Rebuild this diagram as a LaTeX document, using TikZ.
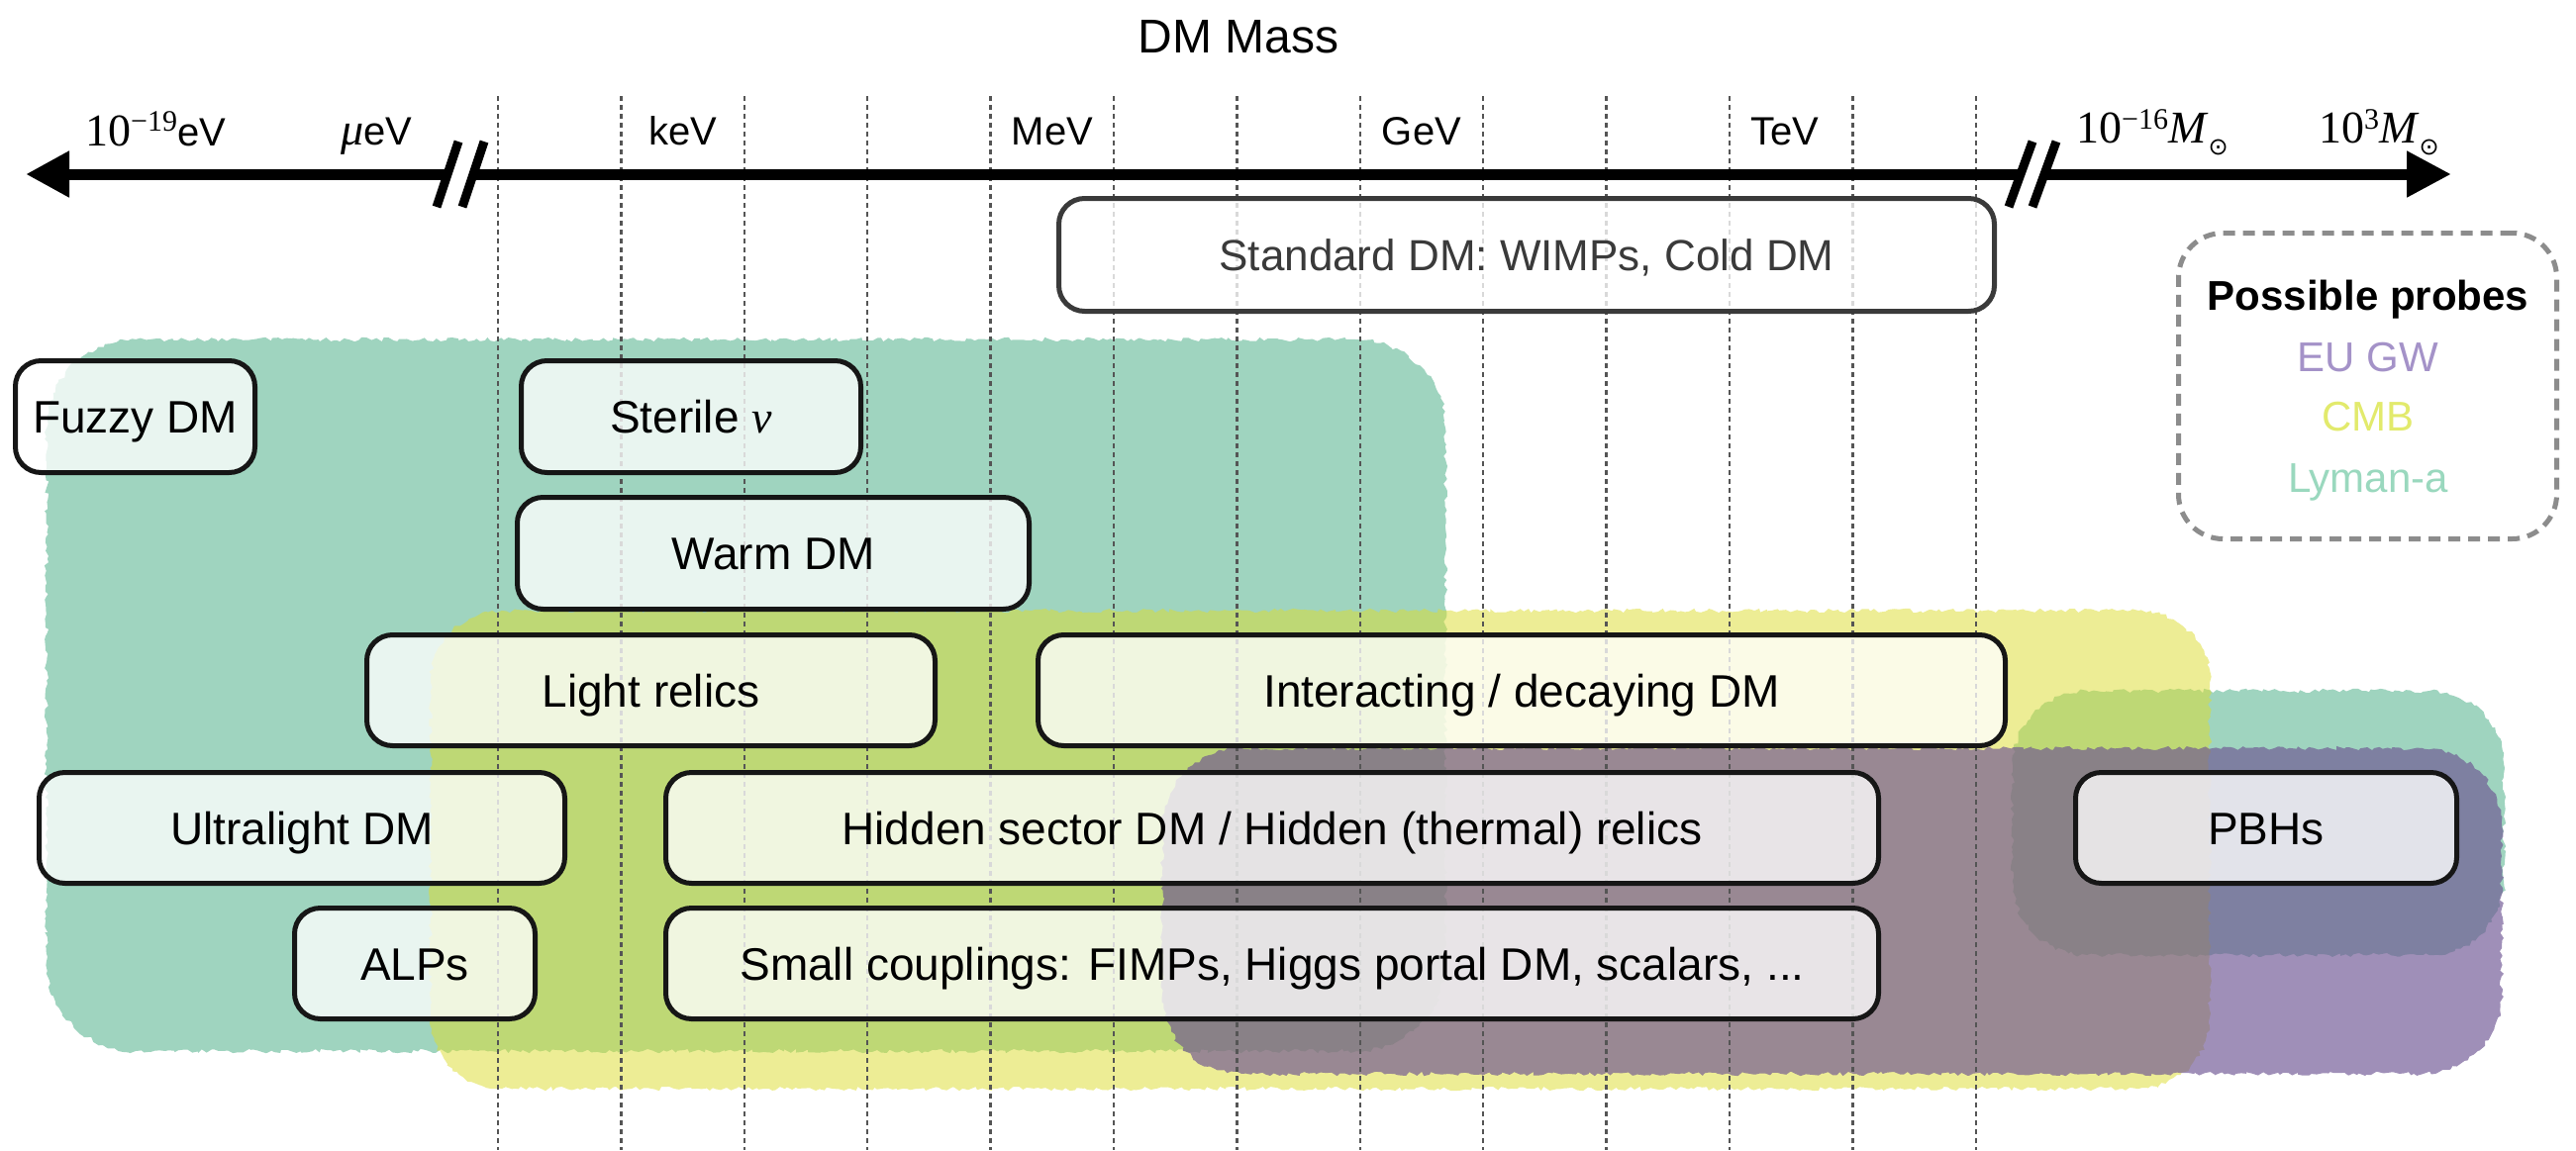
\documentclass[tikz,border=0pt]{standalone}
\usepackage{fontspec}
\setmainfont{Liberation Sans}
\newfontfamily\tmsfont{Liberation Serif}
\newfontfamily\djvfont{DejaVu Sans}
\usetikzlibrary{decorations.pathmorphing,arrows.meta}

\definecolor{lyman}{RGB}{159,212,191}
\definecolor{cmb}{RGB}{221,221,45}
\definecolor{eugw}{RGB}{109,83,146}
\definecolor{gridgray}{RGB}{85,85,85}
\definecolor{boxline}{RGB}{22,22,22}
\definecolor{stdgray}{RGB}{58,58,58}
\definecolor{leggray}{RGB}{140,140,140}
\definecolor{eutext}{RGB}{164,146,200}
\definecolor{cmbtext}{RGB}{226,234,108}
\definecolor{lytext}{RGB}{154,216,190}

\newcommand{\rrect}[5]{(#1+#5,#2) -- (#3-#5,#2) arc[start angle=270,end angle=360,radius=#5] -- (#3,#4-#5) arc[start angle=0,end angle=90,radius=#5] -- (#1+#5,#4) arc[start angle=90,end angle=180,radius=#5] -- (#1,#2+#5) arc[start angle=180,end angle=270,radius=#5] -- cycle}

\begin{document}
\begin{tikzpicture}[x=1pt,y=-1pt,
  blob/.style={decorate, decoration={random steps, segment length=4pt, amplitude=2.2pt}},
  dmbox/.style={draw=boxline, line width=5pt, fill=white, fill opacity=0.78, text opacity=1,
    rounded corners=26pt, inner sep=0pt, text height=33pt, text depth=0pt,
    font=\fontsize{46}{54}\selectfont, text=black},
  gridline/.style={gridgray, line width=2.5pt, dash pattern=on 5pt off 4pt},
  unitlab/.style={font=\fontsize{40}{48}\selectfont, anchor=base, inner sep=0pt},
  legtext/.style={font=\fontsize{42}{50}\selectfont, anchor=base, inner sep=0pt},
  breakmark/.style={line width=9pt, black},
]
\pgfmathsetseed{4242}
\useasboundingbox[fill=white] (0,0) rectangle (2602,1162);

% probe regions
\fill[lyman, blob] \rrect{47}{343}{1460}{1062}{90};
\fill[lyman, blob] \rrect{2033}{698}{2529}{965}{75};
\fill[cmb, fill opacity=0.5, blob] \rrect{435}{617}{2232}{1100}{72};
\fill[eugw, fill opacity=0.65, blob] \rrect{1174}{756}{2527}{1085}{80};

% grid lines
\foreach \i in {0,...,12} {
  \coordinate (gt\i) at (503+124.4*\i, 97);
  \coordinate (gb\i) at (503+124.4*\i, 1162);
  \draw[gridline] (gt\i) -- (gb\i);
}

% axis
\coordinate (axL) at (26,176);
\coordinate (axR) at (2476,176);
\draw[line width=11pt, {Triangle[length=44pt,width=44pt]}-{Triangle[length=45pt,width=44pt]}] (axL) -- (axR);

% breaks
\fill[white] (455,166) -- (481,166) -- (475,186) -- (449,186) -- cycle;
\coordinate (b1a) at (463,143); \coordinate (b1b) at (441,209);
\coordinate (b2a) at (489,143); \coordinate (b2b) at (467,209);
\draw[breakmark] (b1a) -- (b1b);
\draw[breakmark] (b2a) -- (b2b);
\fill[white] (2044,166) -- (2068,166) -- (2062,186) -- (2038,186) -- cycle;
\coordinate (b3a) at (2053,143); \coordinate (b3b) at (2029,209);
\coordinate (b4a) at (2077,143); \coordinate (b4b) at (2053,209);
\draw[breakmark] (b3a) -- (b3b);
\draw[breakmark] (b4a) -- (b4b);

% title and axis labels
\node[font=\fontsize{48}{56}\selectfont, anchor=base, inner sep=0pt] (title) at (1251,53) {DM Mass};
\node[unitlab, anchor=base west] (l19) at (86,147) {{\tmsfont\fontsize{46}{46}\selectfont 10}\raisebox{15pt}{\tmsfont\fontsize{30}{30}\selectfont −19}eV};
\node[unitlab, anchor=base west] (lmu) at (344,146) {{\tmsfont\itshape\fontsize{46}{46}\selectfont μ}eV};
\node[unitlab] (lkev) at (689.6,146) {keV};
\node[unitlab] (lmev) at (1062.8,146) {MeV};
\node[unitlab] (lgev) at (1436,146) {GeV};
\node[unitlab] (ltev) at (1803,146) {TeV};
\node[unitlab, anchor=base west] (l16) at (2097,144) {{\tmsfont\fontsize{46}{46}\selectfont 10\raisebox{14pt}{\fontsize{30}{30}\selectfont −16}\textit{M}}\raisebox{-12pt}{\djvfont\fontsize{24}{24}\selectfont ⊙}};
\node[unitlab, anchor=base west] (l3) at (2342,144) {{\tmsfont\fontsize{46}{46}\selectfont 10\raisebox{14pt}{\fontsize{30}{30}\selectfont 3}\textit{M}}\raisebox{-12pt}{\djvfont\fontsize{24}{24}\selectfont ⊙}};

% model boxes
\node[dmbox, draw=stdgray, text=stdgray, font=\fontsize{44}{52}\selectfont, text height=31.5pt, minimum width=945pt, minimum height=114pt] (std) at (1542,257.5) {Standard DM: WIMPs, Cold DM};
\node[dmbox, minimum width=242pt, minimum height=113pt] (fuzzy) at (136.5,421) {Fuzzy DM};
\node[dmbox, minimum width=343pt, minimum height=113pt] (sterile) at (698,421) {Sterile {\tmsfont\itshape ν}};
\node[dmbox, minimum width=517pt, minimum height=113pt] (warm) at (781,559) {Warm DM};
\node[dmbox, minimum width=574pt, minimum height=112pt] (light) at (657.5,697.5) {Light relics};
\node[dmbox, minimum width=977pt, minimum height=112pt] (inter) at (1537,697.5) {Interacting / decaying DM};
\node[dmbox, minimum width=531pt, minimum height=112pt] (ultra) at (305,836.5) {Ultralight DM};
\node[dmbox, minimum width=1225pt, minimum height=112pt] (hidden) at (1285,836.5) {Hidden sector DM / Hidden (thermal) relics};
\node[dmbox, minimum width=385pt, minimum height=112pt] (pbh) at (2289,836.5) {PBHs};
\node[dmbox, minimum width=243pt, minimum height=112pt] (alps) at (419,973.5) {ALPs};
\node[dmbox, minimum width=1225pt, minimum height=112pt] (small) at (1285,973.5) {Small couplings: FIMPs, Higgs portal DM, scalars, ...};

% legend
\node[draw=leggray, line width=5pt, dash pattern=on 12pt off 8pt, rounded corners=45pt, minimum width=382pt, minimum height=309pt, inner sep=0pt] (legend) at (2391.5,390) {};
\node[legtext, font=\fontsize{42}{50}\selectfont\bfseries] (lp) at (2392,313) {Possible probes};
\node[legtext, text=eutext] (leu) at (2392,375) {EU GW};
\node[legtext, text=cmbtext] (lcmb) at (2392,435) {CMB};
\node[legtext, text=lytext] (lly) at (2392,497) {Lyman-a};
\end{tikzpicture}
\end{document}
